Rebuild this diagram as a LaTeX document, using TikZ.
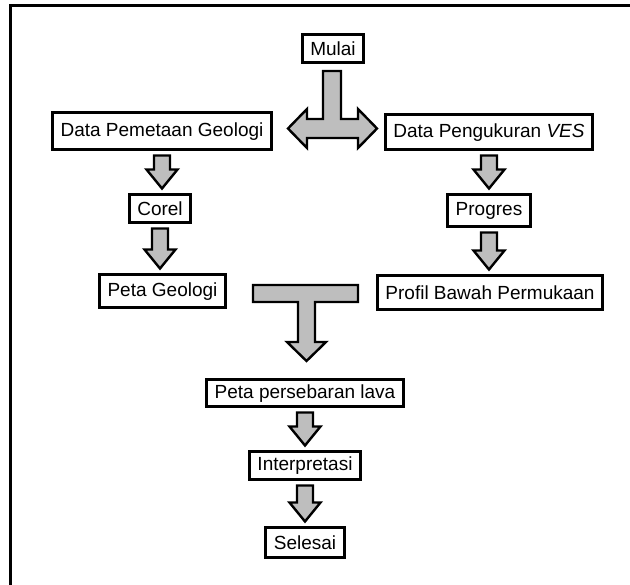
\documentclass[tikz,border=0pt]{standalone}
\usepackage{fontspec}
\setmainfont{Liberation Sans}
\usetikzlibrary{calc}
\definecolor{arrowgray}{RGB}{190,190,190}
\tikzset{
  box/.style={draw,line width=3pt,inner xsep=8pt,inner ysep=2pt,minimum height=30pt,
    font=\fontsize{19}{23}\selectfont},
  fatarrow/.style={draw,line width=2.4pt,fill=arrowgray,line join=miter},
}
% block arrow from one box down to the next
\newcommand{\blockdown}[2]{%
  \coordinate (#1-top) at ($(#1.south)+(0,-4pt)$);
  \coordinate (#1-tip) at ($(#1.south |- #2.north)+(0,5pt)$);
  \draw[fatarrow] ($(#1-top)+(-8pt,0)$) -- ($(#1-top)+(8pt,0)$) -- ($(#1-tip)+(8pt,19pt)$)
    -- ($(#1-tip)+(15.5pt,19pt)$) -- (#1-tip) -- ($(#1-tip)+(-15.5pt,19pt)$)
    -- ($(#1-tip)+(-8pt,19pt)$) -- cycle;}
\begin{document}
\begin{tikzpicture}[x=1pt,y=-1pt]
  \useasboundingbox (0,0) rectangle (630,585);
  \draw[line width=3pt,line join=miter] (10,585) -- (10,6) -- (630,6);

  \path (333,49) node[box,minimum height=28pt] (mulai) {Mulai};
  \path (162,131.5) node[box,minimum height=37pt] (pemetaan) {Data Pemetaan Geologi};
  \path (489,132.5) node[box,minimum height=35pt] (ves) {Data Pengukuran \textit{VES}};
  \path (160,209) node[box,minimum height=28pt] (corel) {Corel};
  \path (489,211) node[box,minimum height=32pt] (progres) {Progres};
  \path (162.5,291.5) node[box,minimum height=33pt] (petageo) {Peta Geologi};
  \path (490,293) node[box,minimum height=34pt] (profil) {Profil Bawah Permukaan};
  \path (305,393.5) node[box,minimum height=27pt] (lava) {Peta persebaran lava};
  \path (305,466) node[box,minimum height=28pt] (interpretasi) {Interpretasi};
  \path (305,543) node[box,minimum height=30pt] (selesai) {Selesai};

  % split from Mulai to both data sets
  \draw[fatarrow] (323,71) -- (341,71) -- (341,119) -- (358,119) -- (358,109)
    -- (377,128.5) -- (358,148) -- (358,138) -- (307,138) -- (307,148)
    -- (288,128.5) -- (307,109) -- (307,119) -- (323,119) -- cycle;

  \blockdown{pemetaan}{corel}
  \blockdown{corel}{petageo}
  \blockdown{ves}{progres}
  \blockdown{progres}{profil}

  % merge into the lava map
  \draw[fatarrow] (253,285) -- (358,285) -- (358,302) -- (315,302) -- (315,342)
    -- (326,342) -- (306.5,361) -- (287,342) -- (298,342) -- (298,302)
    -- (253,302) -- cycle;

  \blockdown{lava}{interpretasi}
  \blockdown{interpretasi}{selesai}
\end{tikzpicture}
\end{document}
